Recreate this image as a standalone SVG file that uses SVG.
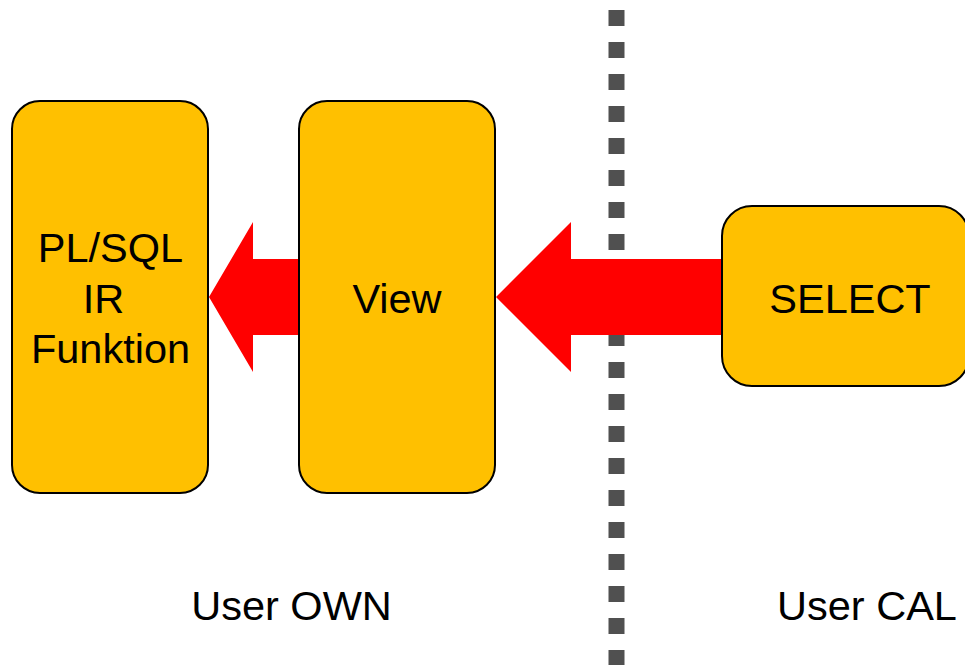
<svg xmlns="http://www.w3.org/2000/svg" width="965" height="665" viewBox="0 0 965 665">
  <style>
    .box { fill: #ffc000; stroke: #000000; stroke-width: 2; }
    .label { font-family: "Liberation Sans", Arial, sans-serif; font-size: 41.5px; fill: #000000; text-anchor: middle; }
    .arrow { fill: #ff0000; stroke: none; }
    .divider { stroke: #505050; stroke-width: 16; stroke-dasharray: 16 16; fill: none; }
  </style>
  <rect width="965" height="665" fill="#ffffff"/>

  <!-- boundary between the two users -->
  <line class="divider" x1="616.5" y1="10" x2="616.5" y2="665"/>

  <!-- connectors -->
  <g id="connectors">
    <polygon class="arrow" points="209,297 253,222 253,259 300,259 300,335 253,335 253,372"/>
    <polygon class="arrow" points="496,297 571,222 571,259 723,259 723,335 571,335 571,372"/>
  </g>

  <g id="node-plsql">
    <rect class="box" x="12" y="101" width="196" height="392" rx="28" ry="28"/>
    <text class="label" x="110.5" y="262">PL/SQL</text>
    <text class="label" x="103.5" y="313">IR</text>
    <text class="label" x="110.5" y="363">Funktion</text>
  </g>

  <g id="node-view">
    <rect class="box" x="299" y="101" width="196" height="392" rx="28" ry="28"/>
    <text class="label" x="397" y="313">View</text>
  </g>

  <g id="node-select">
    <rect class="box" x="722" y="206" width="247" height="180" rx="30" ry="30"/>
    <text class="label" x="850" y="313">SELECT</text>
  </g>

  <g id="labels">
    <text class="label" x="291.5" y="620">User OWN</text>
    <text class="label" x="867" y="620">User CAL</text>
  </g>
</svg>
